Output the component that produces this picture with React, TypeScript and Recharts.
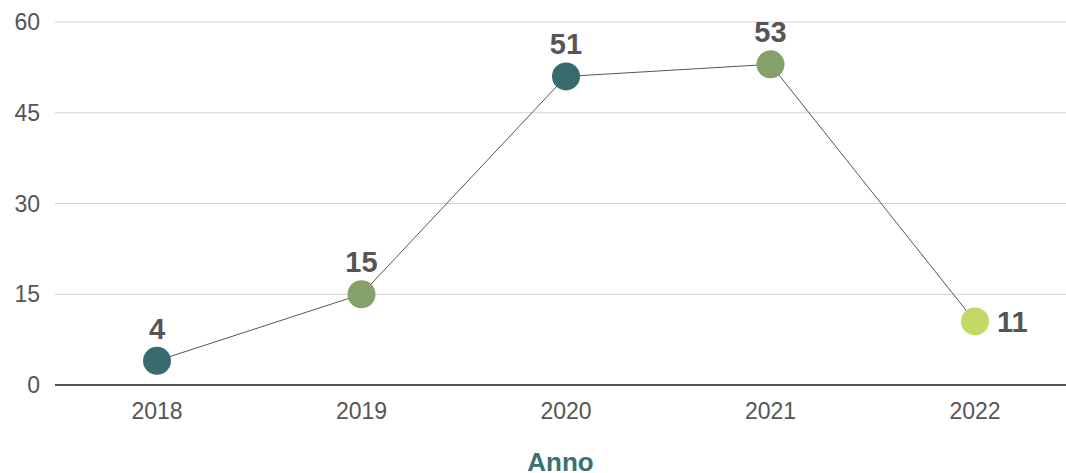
import { LineChart, Line, XAxis, YAxis, CartesianGrid, LabelList } from 'recharts';

const years = ['2018', '2019', '2020', '2021', '2022'];
const counts = [4, 15, 51, 53, 10.5];
const yTicks = [0, 15, 30, 45, 60];

const DOT_COLORS = ['#376b6d', '#85a068', '#376b6d', '#85a068', '#c2d966'];
const TEXT = '#555555';
const FONT = '"Liberation Sans", Arial, sans-serif';

const data = years.map((year, i) => ({ year, count: counts[i] }));

function Dot(props: any) {
  const { cx, cy, index } = props;
  return <circle key={index} cx={cx} cy={cy} r={14} fill={DOT_COLORS[index]} />;
}

function ValueLabel(props: any) {
  const { x, y, value, index } = props;
  const text = String(Math.round(value));
  // last point carries its label on the right side
  if (index === counts.length - 1) {
    return (
      <text x={x + 22} y={y} dy="0.36em" textAnchor="start" fontSize={29} fontWeight="bold" fill={TEXT} fontFamily={FONT}>
        {text}
      </text>
    );
  }
  return (
    <text x={x} y={y - 22} textAnchor="middle" fontSize={29} fontWeight="bold" fill={TEXT} fontFamily={FONT}>
      {text}
    </text>
  );
}

export default function App() {
  return (
    <div style={{ position: 'absolute', left: 0, top: 0, fontFamily: FONT }}>
      <LineChart width={1066} height={473} data={data} margin={{ top: 22, right: 0, bottom: 0, left: 0 }}>
        <CartesianGrid vertical={false} stroke="#d2d2d2" strokeWidth={1} />
        <XAxis
          dataKey="year"
          height={88}
          padding={{ left: 102, right: 91 }}
          axisLine={{ stroke: TEXT, strokeWidth: 2 }}
          tickLine={false}
          tickSize={0}
          tickMargin={18}
          tick={{ fill: TEXT, fontSize: 23, fontFamily: FONT }}
          label={{ value: 'Anno', position: 'insideBottom', offset: 2, fill: '#3a7272', fontSize: 26, fontWeight: 'bold', fontFamily: FONT }}
        />
        <YAxis
          width={55}
          domain={[0, 60]}
          ticks={yTicks}
          axisLine={false}
          tickLine={false}
          tickSize={0}
          tickMargin={15}
          tick={{ fill: TEXT, fontSize: 23, fontFamily: FONT }}
        />
        <Line
          type="linear"
          dataKey="count"
          stroke={TEXT}
          strokeWidth={1}
          dot={<Dot />}
          activeDot={false}
          isAnimationActive={false}
        >
          <LabelList dataKey="count" content={<ValueLabel />} />
        </Line>
      </LineChart>
    </div>
  );
}
